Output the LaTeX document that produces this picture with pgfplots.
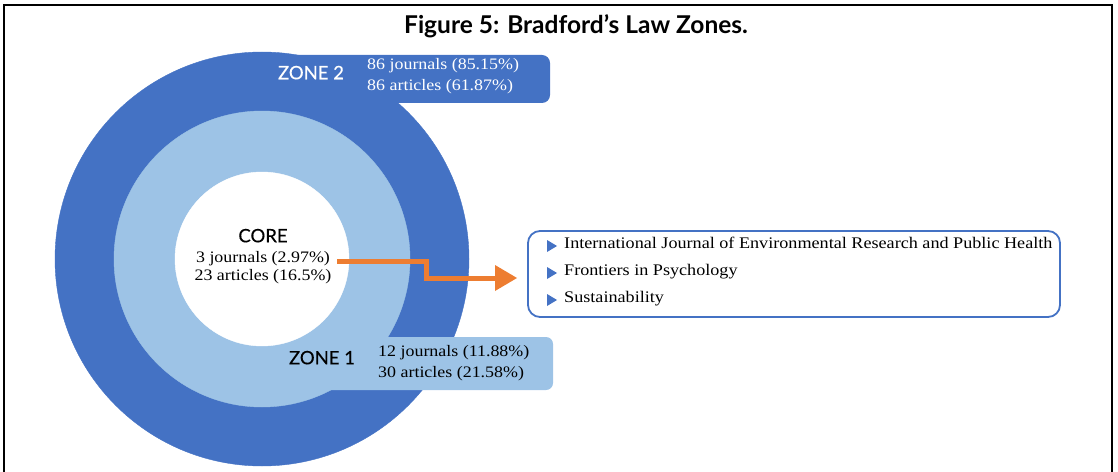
\documentclass[border=0pt]{standalone}
\usepackage{fontspec}
\setmainfont{Liberation Serif}[FakeStretch=1.12]
\newfontfamily\gill{Lato}
\newfontfamily\gillm{Lato}[FakeBold=0.4]
\usepackage{pgfplots}
\pgfplotsset{compat=1.18}
\definecolor{zdark}{HTML}{4472C4}
\definecolor{zlight}{HTML}{9DC3E6}
\definecolor{zorange}{HTML}{ED7D31}
\newcommand{\sz}[1]{\fontsize{#1bp}{#1bp}\selectfont}
\pgfplotsset{canvas/.style={scale only axis, width=1118bp, height=472bp,
  xmin=0, xmax=1118, ymin=0, ymax=472, y dir=reverse,
  hide axis, clip=false}}
\begin{document}
\begin{tikzpicture}
% zones (concentric), drawn first
\begin{axis}[canvas]
\addplot[only marks, mark=*, color=zdark, mark size=207bp] coordinates {(262,259)};
\addplot[only marks, mark=*, color=zlight, mark size=148bp] coordinates {(262,259)};
\addplot[only marks, mark=*, color=white, mark size=87bp] coordinates {(262,259)};
\end{axis}
% annotations on top
\begin{axis}[canvas]
\draw[black, line width=1.5bp] (axis cs:4,472) -- (axis cs:4,5) -- (axis cs:1112,5) -- (axis cs:1112,472);
\fill[zdark, rounded corners=8bp] (axis cs:270,55) rectangle (axis cs:550,103);
\fill[zlight, rounded corners=7bp] (axis cs:318,337) rectangle (axis cs:553,390);
% arrow
\draw[zorange, line width=5bp, line join=miter] (axis cs:337,261) -- (axis cs:426,261) -- (axis cs:426,278) -- (axis cs:497,278);
\fill[zorange] (axis cs:495,265) -- (axis cs:517,278) -- (axis cs:495,291) -- cycle;
% list box
\draw[zdark, line width=1.8bp, rounded corners=12bp] (axis cs:528,231) rectangle (axis cs:1060,317);
\fill[zdark] (axis cs:547,240) -- (axis cs:557,246) -- (axis cs:547,252) -- cycle;
\fill[zdark] (axis cs:547,267) -- (axis cs:557,273) -- (axis cs:547,279) -- cycle;
\fill[zdark] (axis cs:547,294) -- (axis cs:557,300) -- (axis cs:547,306) -- cycle;
\node[anchor=mid west, inner sep=0pt] at (axis cs:564,246) {\sz{16.2}International Journal of Environmental Research and Public Health};
\node[anchor=mid west, inner sep=0pt] at (axis cs:564,273) {\sz{16.2}Frontiers in Psychology};
\node[anchor=mid west, inner sep=0pt] at (axis cs:564,300) {\sz{16.2}Sustainability};
% title
\node[anchor=mid, inner sep=0pt] at (axis cs:576,31) {\gill\bfseries\sz{24.5}Figure 5: Bradford’s Law Zones.};
% zone 2
\node[anchor=mid, inner sep=0pt, text=white] at (axis cs:311,77) {\gillm\sz{18.5}ZONE 2};
\node[anchor=mid west, inner sep=0pt, text=white] at (axis cs:367,67) {\sz{16}86 journals (85.15\%)};
\node[anchor=mid west, inner sep=0pt, text=white] at (axis cs:367,88) {\sz{16}86 articles (61.87\%)};
% core
\node[anchor=mid, inner sep=0pt] at (axis cs:263,240) {\gillm\sz{18.5}CORE};
\node[anchor=mid, inner sep=0pt] at (axis cs:263,260) {\sz{16}3 journals (2.97\%)};
\node[anchor=mid, inner sep=0pt] at (axis cs:263,278) {\sz{16}23 articles (16.5\%)};
% zone 1
\node[anchor=mid, inner sep=0pt] at (axis cs:322,362) {\gillm\sz{18.5}ZONE 1};
\node[anchor=mid west, inner sep=0pt] at (axis cs:378,354) {\sz{16}12 journals (11.88\%)};
\node[anchor=mid west, inner sep=0pt] at (axis cs:378,375) {\sz{16}30 articles (21.58\%)};
\end{axis}
\pgfresetboundingbox
\path (current axis.south west) rectangle (current axis.north east);
\end{tikzpicture}
\end{document}
